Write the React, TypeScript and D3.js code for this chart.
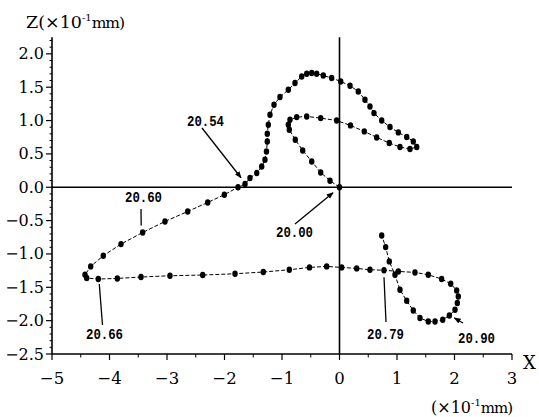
import React from 'react';
import * as d3 from 'd3';

// Trajectory (×10^-1 mm), in time order starting at 20.00
const trajX = [
  0, -0.165, -0.327, -0.483, -0.64, -0.769, -0.873, -0.89, -0.861, -0.744,
  -0.57, -0.327, -0.049, 0.191, 0.431, 0.647, 0.866, 1.052, 1.226, 1.343,
  1.283, 1.169, 1.023, 0.878, 0.734, 0.6, 0.53, 0.443, 0.327, 0.183,
  0.021, -0.136, -0.282, -0.397, -0.483, -0.57, -0.657, -0.774, -0.89, -1.035,
  -1.139, -1.209, -1.238, -1.256, -1.256, -1.27, -1.296, -1.353, -1.44, -1.557,
  -1.643, -1.765, -2.003, -2.292, -2.64, -3.035, -3.423, -3.8, -4.108, -4.327,
  -4.426, -4.397, -4.195, -3.864, -3.452, -2.948, -2.379, -1.817, -1.325, -0.873,
  -0.522, -0.223, 0.038, 0.299, 0.53, 0.774, 1.023, 1.313, 1.544, 1.777,
  1.934, 2.038, 2.066, 2.049, 2.009, 1.91, 1.795, 1.661, 1.544, 1.4,
  1.283, 1.169, 1.052, 0.965, 0.866, 0.803, 0.734,
];
const trajZ = [
  0, 0.097, 0.222, 0.387, 0.552, 0.712, 0.862, 0.937, 1.012, 1.052,
  1.061, 1.037, 1.0, 0.927, 0.837, 0.747, 0.663, 0.603, 0.573, 0.603,
  0.687, 0.753, 0.822, 0.903, 1.001, 1.112, 1.211, 1.312, 1.436, 1.522,
  1.586, 1.637, 1.676, 1.702, 1.712, 1.702, 1.661, 1.562, 1.462, 1.352,
  1.237, 1.087, 0.937, 0.802, 0.687, 0.537, 0.412, 0.312, 0.213, 0.138,
  0.048, 0, -0.112, -0.228, -0.363, -0.513, -0.678, -0.852, -1.027, -1.187,
  -1.312, -1.361, -1.376, -1.367, -1.346, -1.327, -1.316, -1.297, -1.271, -1.237,
  -1.202, -1.187, -1.202, -1.217, -1.237, -1.244, -1.262, -1.277, -1.312, -1.376,
  -1.447, -1.547, -1.637, -1.736, -1.837, -1.922, -1.987, -2.012, -2.012, -1.961,
  -1.847, -1.702, -1.537, -1.312, -1.112, -0.897, -0.723,
];

const xTickValues = [-5, -4, -3, -2, -1, 0, 1, 2, 3];
const xTickLabels = ['−5', '−4', '−3', '−2', '−1', '0', '1', '2', '3'];
const zTickValues = [2.0, 1.5, 1.0, 0.5, 0.0, -0.5, -1.0, -1.5, -2.0, -2.5];
const zTickLabels = ['2.0', '1.5', '1.0', '0.5', '0.0', '−0.5', '−1.0', '−1.5', '−2.0', '−2.5'];

const annLabels = ['20.54', '20.60', '20.00', '20.66', '20.79', '20.90'];
const annTargetIndex = [51, 56, 0, 62, 75, 85];

// layout of annotation texts / leaders (pixels)
const annLayout = [
  { tx: 187, ty: 126, sx: 202, sy: 128, dx: 3, dy: -9.5, arrow: true },
  { tx: 125, ty: 202, sx: 141, sy: 209, dx: -1.5, dy: -7, arrow: false },
  { tx: 276, ty: 237, sx: 295, sy: 224, dx: -6.5, dy: 5.5, arrow: true },
  { tx: 86, ty: 339, sx: 102.5, sy: 325, dx: 1, dy: 5, arrow: false },
  { tx: 367, ty: 339, sx: 386, sy: 322, dx: 0, dy: 7, arrow: false },
  { tx: 458, ty: 343, sx: 463, sy: 323, dx: 5, dy: 2.5, arrow: true },
];

export default function App() {
  const W = 539, H = 417;
  const x = d3.scaleLinear().domain([-5, 3]).range([52, 512]);
  const y = d3.scaleLinear().domain([-2.5, 2.25]).range([354, 354 - 4.75 * 66.7]);
  const pts = trajX.map((v, i) => [x(v), y(trajZ[i])] as [number, number]);
  const line = d3.line()(pts) || '';
  const serif = '"DejaVu Serif", "Liberation Serif", serif';
  const mono = '"Liberation Mono", "DejaVu Sans Mono", monospace';

  const xMinor = d3.range(-4.5, 3, 1);
  const zMinor = d3.range(-2.5, 2.26, 0.1).filter(v => Math.abs(v * 2 - Math.round(v * 2)) > 0.01);

  return (
    <svg width={W} height={H} style={{ position: 'absolute', left: 0, top: 0, background: '#fff' }}>
      <defs>
        <marker id="ah" viewBox="0 0 10 10" refX="9" refY="5" markerWidth="7" markerHeight="7" orient="auto-start-reverse" markerUnits="userSpaceOnUse">
          <path d="M0,1 L10,5 L0,9 z" fill="#000" />
        </marker>
      </defs>
      <rect width={W} height={H} fill="#fff" />
      {/* left axis */}
      <line x1={x(-5)} x2={x(-5)} y1={y(2.25)} y2={y(-2.5)} stroke="#000" strokeWidth={1.6} />
      {zTickValues.map((v, i) => (
        <g key={'zt' + i}>
          <line x1={x(-5) - 6} x2={x(-5)} y1={y(v)} y2={y(v)} stroke="#000" strokeWidth={1.2} />
          <text x={x(-5) - 8} y={y(v) + 5.5} textAnchor="end" fontFamily={serif} fontSize={16} fill="#000">{zTickLabels[i]}</text>
        </g>
      ))}
      {zMinor.map((v, i) => (
        <line key={'zm' + i} x1={x(-5) - 2.5} x2={x(-5)} y1={y(v)} y2={y(v)} stroke="#000" strokeWidth={1} />
      ))}
      {/* bottom axis */}
      <line x1={x(-5)} x2={x(3)} y1={y(-2.5)} y2={y(-2.5)} stroke="#000" strokeWidth={1.6} />
      {xTickValues.map((v, i) => (
        <g key={'xt' + i}>
          <line x1={x(v)} x2={x(v)} y1={y(-2.5)} y2={y(-2.5) + 6} stroke="#000" strokeWidth={1.2} />
          <text x={x(v)} y={y(-2.5) + 30} textAnchor="middle" fontFamily={serif} fontSize={16.5} fill="#000">{xTickLabels[i]}</text>
        </g>
      ))}
      {xMinor.map((v, i) => (
        <line key={'xm' + i} x1={x(v)} x2={x(v)} y1={y(-2.5)} y2={y(-2.5) + 3.5} stroke="#000" strokeWidth={1} />
      ))}
      {/* zero lines */}
      <line x1={x(-5)} x2={x(3)} y1={y(0)} y2={y(0)} stroke="#000" strokeWidth={1.3} />
      <line x1={x(0)} x2={x(0)} y1={y(2.25)} y2={y(-2.5)} stroke="#000" strokeWidth={1.6} />

      {/* axis titles */}
      <text x={26} y={28} fontFamily={serif} fontSize={17.5} fill="#000">
        Z(×10<tspan fontSize={10} dy={-7}>-1</tspan><tspan dy={7} fontSize={15.5} letterSpacing={-1}>mm)</tspan>
      </text>
      <text x={523} y={369} fontFamily={serif} fontSize={18} fill="#000">X</text>
      <text x={431} y={413} fontFamily={serif} fontSize={16} fill="#000">
        (×10<tspan fontSize={10} dy={-7}>-1</tspan><tspan dy={7} fontSize={15} letterSpacing={-1}>mm)</tspan>
      </text>

      {/* trajectory */}
      <path d={line} fill="none" stroke="#000" strokeWidth={1} strokeDasharray="4,2" />
      {pts.map((p, i) => (
        <ellipse key={'p' + i} cx={p[0]} cy={p[1]} rx={2.7} ry={3.2} fill="#000" />
      ))}

      {/* annotations */}
      {annLabels.map((lab, i) => {
        const L = annLayout[i];
        const t = pts[annTargetIndex[i]];
        return (
          <g key={'a' + i}>
            <line x1={L.sx} y1={L.sy} x2={t[0] + L.dx} y2={t[1] + L.dy} stroke="#000" strokeWidth={1.3}
              markerEnd={L.arrow ? 'url(#ah)' : undefined} />
            <text x={L.tx} y={L.ty} fontFamily={mono} fontSize={15} fontWeight="bold" textLength={37}
              lengthAdjust="spacingAndGlyphs" fill="#000">{lab}</text>
          </g>
        );
      })}
    </svg>
  );
}
